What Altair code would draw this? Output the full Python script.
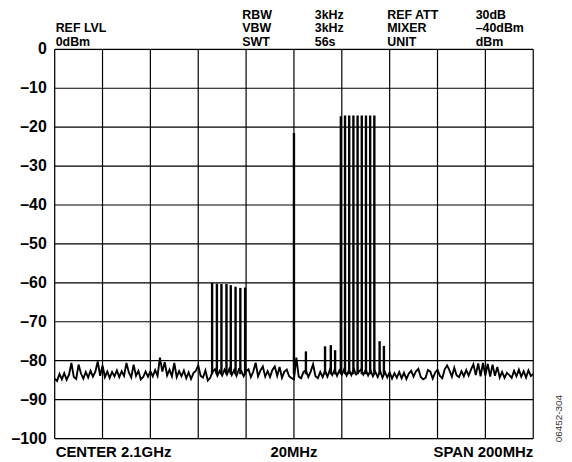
import altair as alt
import pandas as pd

# ---- data -------------------------------------------------------------
# frequency offset from 2000 MHz (MHz), noise-floor trace in dBm
noise_freq = list(range(0, 201))
noise_db = [
    -84.6, -85.2, -83.4, -84.8, -83.2, -84.9, -83.6, -80.6, -84.2, -84.7,
    -81.0, -83.3, -84.6, -82.9, -84.3, -82.6, -84.1, -82.8, -80.2, -83.9,
    -81.2, -84.2, -82.8, -84.4, -82.9, -84.0, -82.5, -84.2, -82.7, -83.9,
    -80.6, -83.0, -84.3, -81.0, -83.9, -82.6, -84.8, -84.2, -82.8, -84.1,
    -82.7, -84.0, -82.4, -83.9, -79.2, -82.8, -80.4, -83.8, -82.3, -84.0,
    -80.6, -84.2, -82.7, -84.0, -82.5, -84.5, -83.0, -84.7, -83.2, -82.6,
    -81.2, -83.9, -84.3, -82.5, -85.1, -84.4, -82.8, -82.2, -83.9, -82.6,
    -83.8, -82.3, -83.6, -82.1, -83.7, -82.4, -83.9, -82.2, -82.6, -84.0,
    -82.7, -82.2, -84.2, -82.8, -80.5, -84.0, -82.5, -81.5, -84.1, -82.7,
    -84.2, -82.4, -81.5, -83.9, -81.6, -84.4, -82.8, -82.3, -84.0, -84.5,
    -84.8, -79.2, -84.1, -84.5, -82.9, -82.5, -84.2, -82.8, -80.9, -84.0,
    -84.5, -82.9, -84.2, -82.6, -84.1, -82.4, -83.7, -82.3, -83.9, -82.5,
    -83.6, -82.2, -83.8, -82.4, -83.7, -82.1, -83.5, -82.9, -82.3, -83.6,
    -82.4, -83.8, -82.5, -84.0, -82.8, -84.2, -82.6, -84.4, -82.9, -84.3,
    -83.0, -84.6, -83.2, -84.4, -82.9, -84.5, -83.1, -84.7, -83.3, -82.6,
    -84.1, -82.7, -82.1, -84.2, -84.8, -84.4, -82.4, -82.8, -84.6, -83.1,
    -82.3, -83.9, -84.5, -82.2, -81.2, -82.5, -84.1, -81.8, -83.8, -84.2,
    -82.7, -84.0, -82.4, -83.8, -82.3, -80.9, -83.7, -80.7, -84.0, -80.6,
    -83.8, -80.8, -84.1, -81.0, -83.9, -81.6, -84.3, -82.9, -84.4, -83.1,
    -83.7, -84.4, -82.6, -84.0, -82.3, -84.1, -82.7, -84.3, -82.5, -83.9,
    -83.4,
]

floor_db = -83.5

group1_freq = [65.8, 67.8, 69.7, 71.8, 73.6, 75.6, 77.6, 79.6]
group1_peak = [-60.0, -60.2, -60.3, -60.3, -60.6, -61.0, -61.3, -61.2]

center_freq = [100.0]
center_peak = [-21.5]

group2_freq = [119.6, 121.35, 123.1, 124.85, 126.6, 128.35, 130.1, 131.85, 133.6]
group2_peak = [-17.2, -17.0, -17.0, -17.0, -17.0, -17.0, -17.0, -17.0, -17.0]

spur_freq = [105.0, 113.0, 115.4, 117.2, 135.8, 137.6]
spur_peak = [-77.6, -76.3, -76.0, -77.3, -75.0, -76.2]

y_ticks = [-100, -90, -80, -70, -60, -50, -40, -30, -20, -10, 0]
y_labels = ["–100", "–90", "–80", "–70", "–60", "–50", "–40", "–30", "–20", "–10", "0"]
x_grid = [0, 20, 40, 60, 80, 100, 120, 140, 160, 180, 200]

header_cols = [
    ["", "REF LVL", "0dBm"],
    ["RBW", "VBW", "SWT"],
    ["3kHz", "3kHz", "56s"],
    ["REF ATT", "MIXER", "UNIT"],
    ["30dB", "–40dBm", "dBm"],
]
bottom_labels = ["CENTER 2.1GHz", "20MHz", "SPAN 200MHz"]
figure_id = "06452-304"

# ---- tables -----------------------------------------------------------
noise_df = pd.DataFrame({"f": noise_freq, "db": noise_db})
spikes = pd.DataFrame({
    "f": group1_freq + center_freq + group2_freq + spur_freq,
    "top": group1_peak + center_peak + group2_peak + spur_peak,
})
spikes["base"] = floor_db
ylab_df = pd.DataFrame({"v": y_ticks, "lab": y_labels})
xgrid_df = pd.DataFrame({"f": x_grid})

FONT = "Liberation Sans"
W, H = 482, 392

x_scale = alt.Scale(domain=[0, 200], nice=False, zero=False)
y_scale = alt.Scale(domain=[-100, 0], nice=False)

xgrid = alt.Chart(xgrid_df).mark_rule(color="black", strokeWidth=1.2).encode(
    x=alt.X("f:Q", scale=x_scale, axis=None),
)
ygrid = alt.Chart(ylab_df).mark_rule(color="black", strokeWidth=1.2).encode(
    y=alt.Y("v:Q", scale=y_scale, axis=None),
)

trace = alt.Chart(noise_df).mark_line(color="black", strokeWidth=1.9).encode(
    x=alt.X("f:Q", axis=None),
    y=alt.Y("db:Q", axis=None),
)

rules = alt.Chart(spikes).mark_rule(color="black", strokeWidth=2.4).encode(
    x=alt.X("f:Q", axis=None),
    y=alt.Y("base:Q", axis=None),
    y2="top:Q",
)

ylabels = alt.Chart(ylab_df).mark_text(
    align="right", baseline="middle", font=FONT, fontSize=16,
    fontWeight="bold", color="black",
).encode(
    x=alt.value(-8),
    y=alt.Y("v:Q", axis=None),
    text="lab:N",
)

layers = [xgrid, ygrid, trace, rules, ylabels]

one = alt.Data(values=[{}])
col_x = [1, 189, 262, 335, 424]
row_y = [-30.5, -17, -3.5]
for cx, col in zip(col_x, header_cols):
    for ry, txt in zip(row_y, col):
        if not txt:
            continue
        layers.append(
            alt.Chart(one).mark_text(
                align="left", baseline="alphabetic", font=FONT, fontSize=12.5,
                fontWeight="bold", color="black",
            ).encode(x=alt.value(cx), y=alt.value(ry), text=alt.value(txt))
        )

bx = [1, W / 2, W]
bal = ["left", "center", "right"]
for x0, al, txt in zip(bx, bal, bottom_labels):
    layers.append(
        alt.Chart(one).mark_text(
            align=al, baseline="middle", font=FONT, fontSize=15,
            fontWeight="bold", color="black",
        ).encode(x=alt.value(x0), y=alt.value(H + 14), text=alt.value(txt))
    )

layers.append(
    alt.Chart(one).mark_text(
        align="center", baseline="middle", font=FONT, fontSize=10,
        color="#333333", angle=270,
    ).encode(x=alt.value(508), y=alt.value(372), text=alt.value(figure_id))
)

chart = alt.layer(*layers).properties(
    width=W, height=H,
    padding={"left": 47, "top": 40, "right": 31, "bottom": 22},
    autosize="none",
).configure_view(stroke="black", strokeWidth=2).configure(background="white")

chart.save("out.html", embed_options={"renderer": "svg", "actions": False})
